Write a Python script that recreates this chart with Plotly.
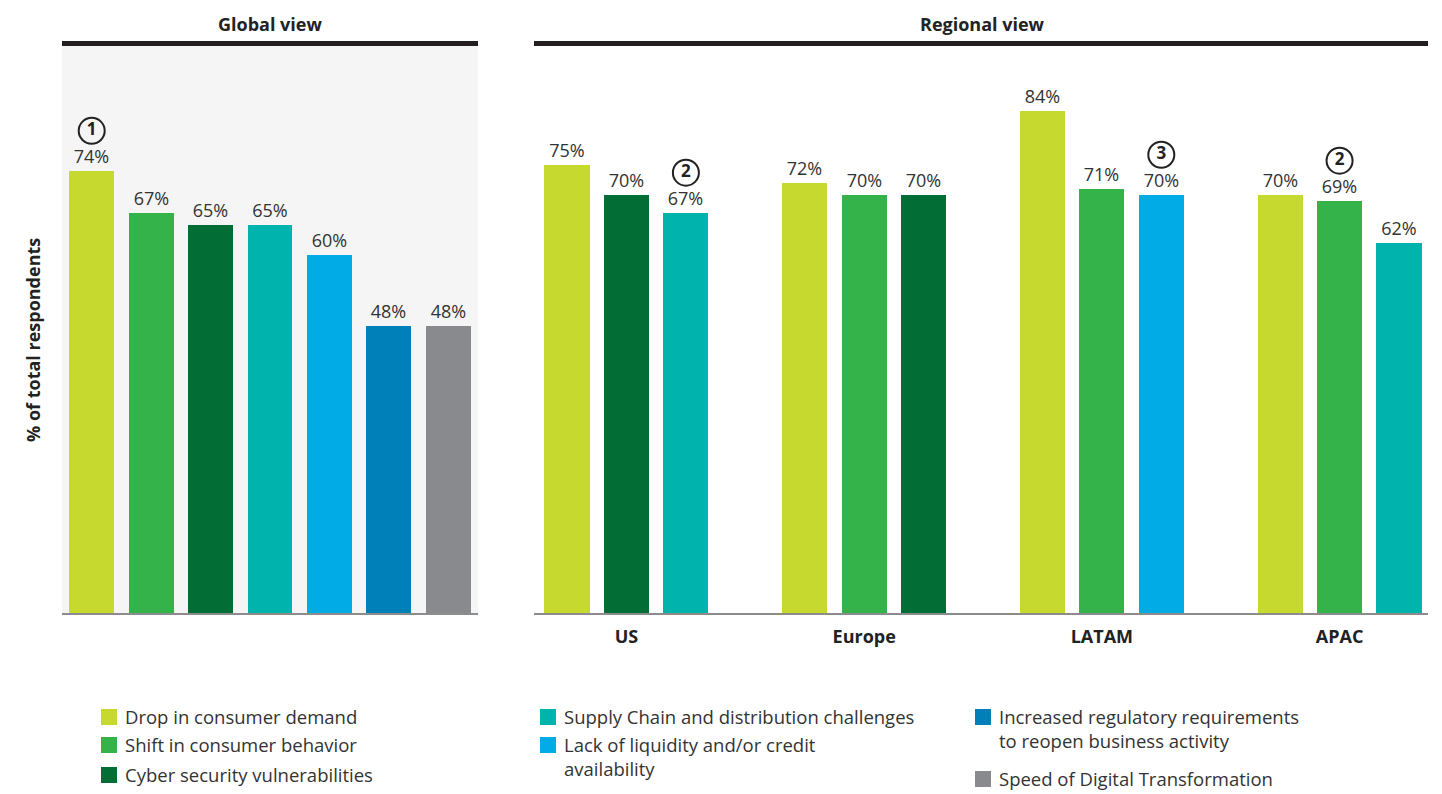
import plotly.graph_objects as go

# ---------- data ----------
risks = [
    "Drop in consumer demand",
    "Shift in consumer behavior",
    "Cyber security vulnerabilities",
    "Supply Chain and distribution challenges",
    "Lack of liquidity and/or credit availability",
    "Increased regulatory requirements to reopen business activity",
    "Speed of Digital Transformation",
]
risk_colors = ["#C6D92E", "#33B34A", "#036D36", "#00B4AE", "#00ABE6", "#0080B9", "#888A8E"]

global_values = [74, 67, 65, 65, 60, 48, 48]
global_marks = [1, None, None, None, None, None, None]

regions = ["US", "Europe", "LATAM", "APAC"]
us_risks = [0, 2, 3]
europe_risks = [0, 1, 2]
latam_risks = [0, 1, 4]
apac_risks = [0, 1, 3]
us_values = [75, 70, 67]
europe_values = [72, 70, 70]
latam_values = [84, 71, 70]
apac_values = [70, 69, 62]
us_marks = [None, None, 2]
europe_marks = [None, None, None]
latam_marks = [None, None, 3]
apac_marks = [None, 2, None]

regional_risks = [us_risks, europe_risks, latam_risks, apac_risks]
regional_values = [us_values, europe_values, latam_values, apac_values]
regional_marks = [us_marks, europe_marks, latam_marks, apac_marks]

# ---------- layout helpers (page pixel -> paper) ----------
# the html body keeps an 8px margin, so the figure is drawn 8px in from the corner
PAGE_W, PAGE_H, BODY = 1442, 794, 8
W, H = PAGE_W - BODY, PAGE_H - BODY
FONT = "Open Sans"
TXT = "#333333"
DARK = "#222222"


def px(x):
    return (x - BODY) / W


def py(y):
    return 1 - (y - BODY) / H


Y_MAX = 94.9
MARK_OFFSET = 6.7   # circled number sits above the value label
SLOT = 0.25         # spacing of bars inside a region group
BAR_W = 0.19

fig = go.Figure()

# ---------- global view ----------
fig.add_trace(go.Bar(
    x=list(range(len(global_values))),
    y=global_values,
    marker=dict(color=risk_colors, line=dict(width=0)),
    width=0.756,
    text=[f"{v}%" for v in global_values],
    textposition="outside",
    textfont=dict(family=FONT, size=18, color=TXT),
    cliponaxis=False,
    hovertext=risks,
    showlegend=False,
    xaxis="x", yaxis="y",
))

gx = [i for i, m in enumerate(global_marks) if m is not None]
fig.add_trace(go.Scatter(
    x=gx,
    y=[global_values[i] + MARK_OFFSET for i in gx],
    mode="markers+text",
    marker=dict(size=26, color="rgba(0,0,0,0)", line=dict(color=DARK, width=2)),
    text=[f"<b>{global_marks[i]}</b>" for i in gx],
    textposition="middle center",
    textfont=dict(family=FONT, size=17, color=DARK),
    cliponaxis=False,
    showlegend=False, hoverinfo="skip",
    xaxis="x", yaxis="y",
))

# ---------- regional view ----------
mx, my, mt = [], [], []
for g, region in enumerate(regions):
    pos = [g + (s - 1) * SLOT for s in range(len(regional_values[g]))]
    fig.add_trace(go.Bar(
        x=pos,
        y=regional_values[g],
        width=BAR_W,
        marker=dict(color=[risk_colors[r] for r in regional_risks[g]], line=dict(width=0)),
        text=[f"{v}%" for v in regional_values[g]],
        textposition="outside",
        textfont=dict(family=FONT, size=18, color=TXT),
        cliponaxis=False,
        hovertext=[risks[r] for r in regional_risks[g]],
        name=region,
        showlegend=False,
        xaxis="x2", yaxis="y2",
    ))
    for s, m in enumerate(regional_marks[g]):
        if m is not None:
            mx.append(pos[s])
            my.append(regional_values[g][s] + MARK_OFFSET)
            mt.append(f"<b>{m}</b>")

fig.add_trace(go.Scatter(
    x=mx, y=my, text=mt,
    mode="markers+text",
    marker=dict(size=26, color="rgba(0,0,0,0)", line=dict(color=DARK, width=2)),
    textposition="middle center",
    textfont=dict(family=FONT, size=17, color=DARK),
    cliponaxis=False,
    showlegend=False, hoverinfo="skip",
    xaxis="x2", yaxis="y2",
))

# ---------- shapes: panel background, header rules ----------
shapes = [
    dict(type="rect", xref="x domain", yref="y domain", x0=0, x1=1, y0=0, y1=1,
         fillcolor="#F4F5F4", line=dict(width=0), layer="below"),
    dict(type="line", xref="paper", yref="paper", x0=px(62), x1=px(478), y0=py(43.5), y1=py(43.5),
         line=dict(color="#231F20", width=5)),
    dict(type="line", xref="paper", yref="paper", x0=px(534), x1=px(1428), y0=py(43.5), y1=py(43.5),
         line=dict(color="#231F20", width=5)),
]

annotations = [
    dict(text="<b>Global view</b>", x=px(270), y=py(24), xref="paper", yref="paper",
         xanchor="center", yanchor="middle", showarrow=False,
         font=dict(family=FONT, size=18, color=DARK)),
    dict(text="<b>Regional view</b>", x=px(982), y=py(24), xref="paper", yref="paper",
         xanchor="center", yanchor="middle", showarrow=False,
         font=dict(family=FONT, size=18, color=DARK)),
    dict(text="<b>% of total respondents</b>", x=px(33), y=py(340), xref="paper", yref="paper",
         xanchor="center", yanchor="middle", showarrow=False, textangle=-90,
         font=dict(family=FONT, size=18, color=DARK)),
]

# ---------- custom legend ----------
legend_text = [
    "Drop in consumer demand",
    "Shift in consumer behavior",
    "Cyber security vulnerabilities",
    "Supply Chain and distribution challenges",
    "Lack of liquidity and/or credit<br>availability",
    "Increased regulatory requirements<br>to reopen business activity",
    "Speed of Digital Transformation",
]
legend_pos = [(101, 717), (101, 745), (101, 775), (540, 717), (540, 745), (975, 717), (975, 779)]
for label, color, (lx, ly) in zip(legend_text, risk_colors, legend_pos):
    shapes.append(dict(type="rect", xref="paper", yref="paper",
                       x0=px(lx), x1=px(lx + 16), y0=py(ly + 8), y1=py(ly - 8),
                       fillcolor=color, line=dict(width=0)))
    annotations.append(dict(text=label, x=px(lx + 22), y=py(ly - 15), xref="paper", yref="paper",
                            xanchor="left", yanchor="top", align="left", showarrow=False,
                            font=dict(family=FONT, size=18.5, color=TXT)))

fig.update_layout(
    width=W, height=H,
    margin=dict(l=0, r=0, t=0, b=0),
    paper_bgcolor="white",
    plot_bgcolor="rgba(0,0,0,0)",
    font=dict(family=FONT, color=TXT),
    bargap=0,
    xaxis=dict(domain=[px(62), px(478)], range=[-0.5, 6.5], showticklabels=False, ticks="",
               showgrid=False, zeroline=False, showline=True, linecolor="#8C8C8C", linewidth=2,
               fixedrange=True),
    yaxis=dict(domain=[py(613), py(46)], range=[0, Y_MAX], visible=False, fixedrange=True),
    xaxis2=dict(domain=[px(534), px(1428)], range=[-0.389, 3.372], anchor="y2",
                tickmode="array", tickvals=list(range(len(regions))),
                ticktext=[f"<b>{r}</b>" for r in regions], ticks="", ticklabelstandoff=6,
                tickfont=dict(family=FONT, size=18, color=DARK),
                showgrid=False, zeroline=False, showline=True, linecolor="#8C8C8C", linewidth=2,
                fixedrange=True),
    yaxis2=dict(domain=[py(613), py(46)], range=[0, Y_MAX], anchor="x2", visible=False,
                fixedrange=True),
    shapes=shapes,
    annotations=annotations,
)

fig.write_html("out.html")
